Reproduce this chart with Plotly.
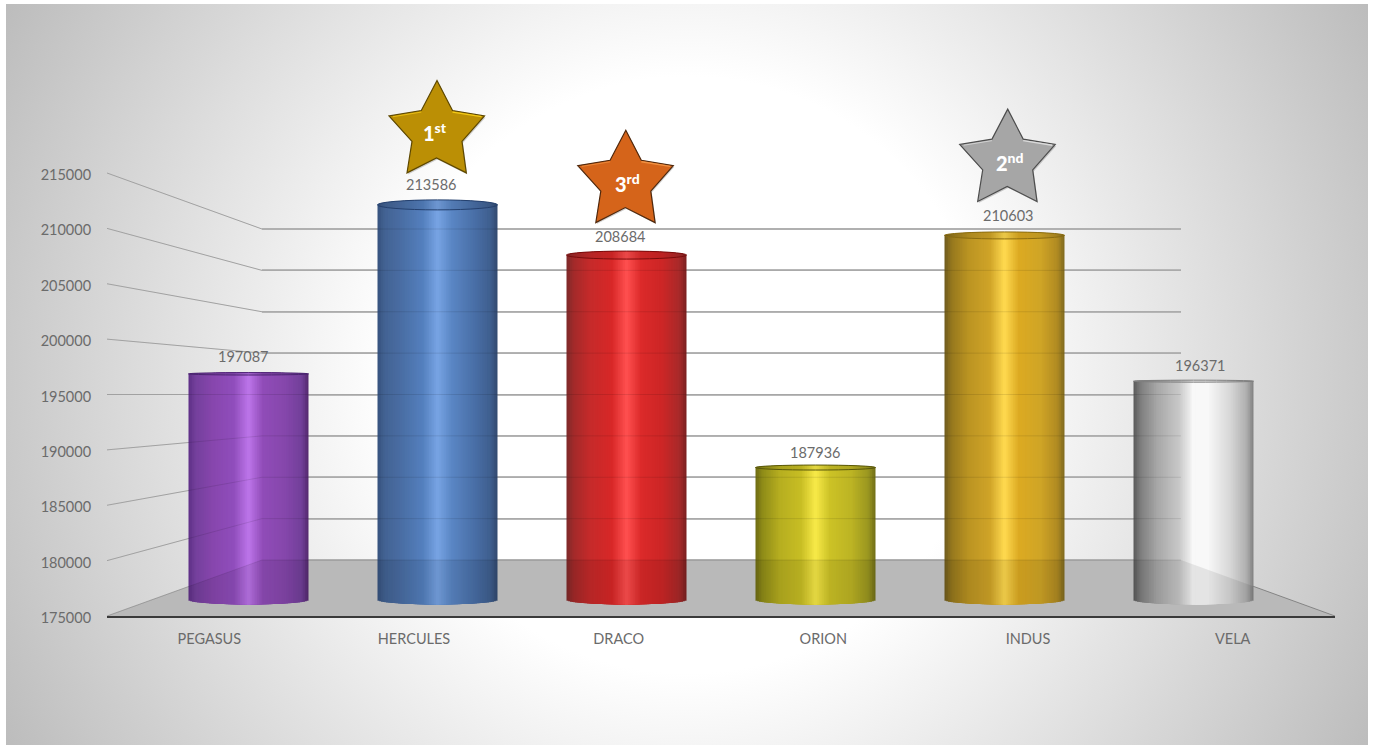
import base64
import math
import plotly.graph_objects as go

# ---------- data ----------
categories = ["PEGASUS", "HERCULES", "DRACO", "ORION", "INDUS", "VELA"]
values = [197087, 213586, 208684, 187936, 210603, 196371]
axis_ticks = [175000, 180000, 185000, 190000, 195000, 200000, 205000, 210000, 215000]
ranks = {"HERCULES": "1<sup>st</sup>", "INDUS": "2<sup>nd</sup>", "DRACO": "3<sup>rd</sup>"}

# ---------- style / layout ----------
W, H = 1373, 745
AX_MIN, AX_MAX = 175000, 215000
TEXT = "#6b6b6b"
FONT = "Lato"


def px(v):
    return v / W


def py(v):
    return 1 - v / H


FRONT_L, FRONT_R, FRONT_T, FRONT_B = 107, 1335, 173, 616
BACK_L, BACK_R, BACK_T, BACK_B = 262, 1181, 229, 560
BACK_PAD = 250              # axis units beyond the last gridlines, so that they are kept
BACK_SCALE = (BACK_B - BACK_T) / (AX_MAX - AX_MIN)
BAR_L, BAR_R = 154, 1288
BAR_SCALE = 0.01024         # pixels per unit on the bars' plane
BAR_BASE = 600
BAR_LOW = 174000
BAR_HIGH = 233000
BAR_T = BAR_BASE - (BAR_HIGH - AX_MIN) * BAR_SCALE
BAR_B = BAR_BASE + (AX_MIN - BAR_LOW) * BAR_SCALE

CYL_W = 120 / 189
N_STRIPS = 70
cap_half = [1.2, 5, 4, 2.5, 3.5, 1]
base_half = 4.5
stop_pos = [0.0, 0.06, 0.2, 0.38, 0.5, 0.62, 0.8, 0.94, 1.0]
stops = [
    ["#5e2f86", "#74409c", "#8746ad", "#904ebc", "#bd75ea", "#904cb8", "#8647ac", "#72409a", "#54296e"],
    ["#36527d", "#436393", "#4a6ea4", "#5480be", "#78a4e4", "#5a86c4", "#4a70a8", "#3f5f8f", "#32496f"],
    ["#7c2a2a", "#a32a2a", "#c62a2a", "#d82828", "#ff5050", "#dc2a2a", "#cc2626", "#a82a2a", "#7a2020"],
    ["#6e6c14", "#8f8c18", "#b6ae20", "#c8be24", "#f8ea48", "#ccc226", "#bcb424", "#9a9620", "#706e18"],
    ["#6e5a1e", "#96781e", "#bb9422", "#d0a428", "#ffda50", "#dcaa22", "#d0a526", "#b08a22", "#7f6a20"],
    ["#5a5a5a", "#7e7e7e", "#a8a8a8", "#c8c8c8", "#f8f8f8", "#f8f8f8", "#d8d8d8", "#b0b0b0", "#808080"],
]
cap_line = ["#4a2470", "#24406e", "#7a0c0c", "#5a580a", "#8a6c10", "#808080"]
label_dx = [-5.5, -6.5, -6.5, -1, 3.5, 6]
label_dy = [17, 20, 19, 15, 20, 16]
star_style = {
    "HERCULES": ("#bb8f05", "#5e4800", "#f2c814"),
    "INDUS": ("#a6a6a6", "#4d4d4d", "#dadada"),
    "DRACO": ("#d5641a", "#50280c", "#f09040"),
}
star_shift = {"HERCULES": (-0.5, 0), "INDUS": (3.2, 2), "DRACO": (-0.7, 0.5)}
rank_shift = {"HERCULES": (-2.5, 72.5), "INDUS": (5, 73), "DRACO": (0.5, 72)}
star_pts = [(0, 124.3), (15.5, 94.3), (47.5, 89), (25, 63.5), (29.3, 32), (-0.5, 47),
            (-30, 32), (-25, 63.5), (-48, 89), (-15.7, 94.3)]


def rgb(h):
    return tuple(int(h[i:i + 2], 16) for i in (1, 3, 5))


def strip_colour(stop_list, t):
    for k in range(len(stop_pos) - 1):
        if stop_pos[k] <= t <= stop_pos[k + 1]:
            f = (t - stop_pos[k]) / (stop_pos[k + 1] - stop_pos[k])
            a, b = rgb(stop_list[k]), rgb(stop_list[k + 1])
            return "rgb(%d,%d,%d)" % tuple(round(a[i] + (b[i] - a[i]) * f) for i in range(3))
    return stop_list[-1]


# background as a radial gradient
svg = f"""<svg xmlns="http://www.w3.org/2000/svg" width="{W}" height="{H}" viewBox="0 0 {W} {H}" preserveAspectRatio="none">
<defs><radialGradient id="g" gradientUnits="userSpaceOnUse" cx="688" cy="375" r="785">
<stop offset="0.38" stop-color="#ffffff"/><stop offset="1" stop-color="#bbbbbb"/>
</radialGradient></defs>
<rect x="6" y="4" width="1362" height="741" fill="url(#g)"/></svg>"""
bg_src = "data:image/svg+xml;base64," + base64.b64encode(svg.encode()).decode()

fig = go.Figure()

# back wall carries the grid
fig.add_trace(go.Scatter(x=[0.5] * len(axis_ticks), y=axis_ticks, mode="none", xaxis="x", yaxis="y",
                         showlegend=False, hoverinfo="skip"))
# front plane axes carry the labels
fig.add_trace(go.Scatter(x=categories, y=values, mode="none", xaxis="x2", yaxis="y2",
                         showlegend=False, hoverinfo="skip"))

# cylinders: opaque bars painted from each rim towards the centre, each new one over the last
dt = 1 / N_STRIPS
for k in range(N_STRIPS // 2):
    t0 = k * dt
    tm = t0 + dt / 2
    arc = math.sqrt(max(0, 1 - (2 * tm - 1) ** 2))
    tops = [v + cap_half[i] * arc / BAR_SCALE for i, v in enumerate(values)]
    bases = [AX_MIN - base_half * arc / BAR_SCALE for _ in values]
    span = (0.5 - t0 + dt) * CYL_W
    heights = [a - b for a, b in zip(tops, bases)]
    for off, t in ((-CYL_W / 2 + t0 * CYL_W, tm), (-dt * CYL_W, 1 - tm)):
        fig.add_trace(go.Bar(
            x=categories, y=heights, base=bases, offset=off, width=span,
            marker=dict(color=[strip_colour(st, t) for st in stops], line=dict(width=0)),
            xaxis="x3", yaxis="y3", showlegend=False, hoverinfo="skip",
        ))

shapes = []
floor = f"M {px(FRONT_L)} {py(FRONT_B)} L {px(BACK_L)} {py(BACK_B)} L {px(BACK_R)} {py(BACK_B)} L {px(FRONT_R)} {py(FRONT_B)} Z"
shapes.append(dict(type="path", path=floor, xref="paper", yref="paper", layer="below",
                   fillcolor="#c9c9c9", line=dict(width=0)))
# faint repeat of floor and lines over the cylinders: they show through the glassy bars
shapes.append(dict(type="path", path=floor, xref="paper", yref="paper", layer="above",
                   fillcolor="rgba(0,0,0,0.08)", line=dict(width=0)))
for tick in axis_ticks:
    f = (tick - AX_MIN) / (AX_MAX - AX_MIN)
    back_y = py(BACK_B - f * (BACK_B - BACK_T))
    for layer, col in (("below", "#b4b4b4"), ("above", "rgba(0,0,0,0.10)")):
        shapes.append(dict(type="line", xref="paper", yref="paper", layer=layer,
                           x0=px(FRONT_L), x1=px(BACK_L),
                           y0=py(FRONT_B - f * (FRONT_B - FRONT_T)), y1=back_y,
                           line=dict(color=col, width=1)))
    shapes.append(dict(type="line", xref="paper", yref="paper", layer="above",
                       x0=px(BACK_L), x1=px(BACK_R), y0=back_y, y1=back_y,
                       line=dict(color="rgba(0,0,0,0.10)", width=1)))
shapes.append(dict(type="line", xref="paper", yref="paper", layer="below",
                   x0=px(BACK_R), x1=px(FRONT_R), y0=py(BACK_B), y1=py(FRONT_B),
                   line=dict(color="#8c8c8c", width=1)))

annotations = []
for i, (c, v) in enumerate(zip(categories, values)):
    d = cap_half[i] / BAR_SCALE
    shapes.append(dict(type="circle", xref="x3", yref="y3", layer="above",
                       x0=i - CYL_W / 2, x1=i + CYL_W / 2, y0=v - d, y1=v + d,
                       fillcolor="rgba(0,0,0,0.08)",
                       line=dict(color=cap_line[i], width=1)))
    annotations.append(dict(x=c, y=v, xref="x3", yref="y3", text=str(v), showarrow=False,
                            xshift=label_dx[i], yshift=label_dy[i], yanchor="middle",
                            font=dict(family=FONT, size=14.5, color=TEXT)))
    if c in ranks:
        fill, edge, glint = star_style[c]
        sx, sy = star_shift[c]
        pts = [(a + sx, b + sy) for a, b in star_pts]
        p = "M " + " L ".join(f"{a} {b}" for a, b in pts) + " Z"
        shadow = "M " + " L ".join(f"{a + 1} {b - 1.5}" for a, b in pts) + " Z"
        base = dict(type="path", xref="x3", yref="y3", xsizemode="pixel", ysizemode="pixel",
                    xanchor=i, yanchor=v, layer="above")
        shapes.append(dict(base, path=shadow, fillcolor="rgba(0,0,0,0.18)", line=dict(width=0)))
        shapes.append(dict(base, path=p, fillcolor=fill, line=dict(color=edge, width=1.2)))
        shapes.append(dict(base, path=f"M {15.5 + sx} {92.8 + sy} L {44.5 + sx} {88.2 + sy}",
                           line=dict(color=glint, width=1.4)))
        shapes.append(dict(base, path=f"M {-15.7 + sx} {92.8 + sy} L {-44 + sx} {88.2 + sy}",
                           line=dict(color=glint, width=0.8)))
        annotations.append(dict(x=c, y=v, xref="x3", yref="y3", text=ranks[c], showarrow=False,
                                xshift=rank_shift[c][0], yshift=rank_shift[c][1], yanchor="middle",
                                font=dict(family=FONT, size=20, color="#ffffff", weight=900)))

pad_px = BACK_PAD * BACK_SCALE
fig.update_layout(
    width=W, height=H,
    margin=dict(l=0, r=0, t=0, b=0, pad=0),
    paper_bgcolor="#ffffff",
    plot_bgcolor="rgba(0,0,0,0)",
    barmode="overlay",
    showlegend=False,
    images=[dict(source=bg_src, xref="paper", yref="paper", x=0, y=1, sizex=1, sizey=1,
                 sizing="stretch", xanchor="left", yanchor="top", layer="below")],
    shapes=shapes,
    annotations=annotations,
    # back wall (grid only)
    xaxis=dict(domain=[px(BACK_L), px(BACK_R)], range=[0, 1], showgrid=False, zeroline=False,
               tickmode="array", tickvals=[],
               automargin=False, showticklabels=False, ticks="", showline=False, anchor="y", fixedrange=True),
    yaxis=dict(domain=[py(BACK_B + pad_px), py(BACK_T - pad_px)],
               range=[AX_MIN - BACK_PAD, AX_MAX + BACK_PAD], tickvals=axis_ticks,
               automargin=False, showgrid=True, gridcolor="#bababa", gridwidth=1.5, zeroline=False,
               showticklabels=False, ticks="", showline=False, anchor="x", fixedrange=True),
    # front plane (labels and axis line)
    xaxis2=dict(domain=[px(FRONT_L), px(FRONT_R)], type="category", categoryorder="array",
                categoryarray=categories, range=[-0.5, 5.5], anchor="y2", automargin=False,
                showgrid=False, zeroline=False, showline=True, linecolor="#3a3a3a", linewidth=1.5,
                ticks="outside", ticklen=9, tickcolor="rgba(0,0,0,0)",
                tickfont=dict(family=FONT, size=14.5, color=TEXT), fixedrange=True),
    yaxis2=dict(domain=[py(FRONT_B), py(FRONT_T)], range=[AX_MIN, AX_MAX], tickvals=axis_ticks,
                ticktext=[str(t) for t in axis_ticks], anchor="x2", automargin=False,
                showgrid=False, zeroline=False, showline=False,
                ticks="outside", ticklen=12, tickcolor="rgba(0,0,0,0)", ticklabelshift=2,
                tickfont=dict(family=FONT, size=14.5, color=TEXT), fixedrange=True),
    # plane holding the cylinders
    xaxis3=dict(domain=[px(BAR_L), px(BAR_R)], type="category", categoryorder="array",
                categoryarray=categories, range=[-0.5, 5.5], visible=False, showticklabels=False,
                anchor="y3", automargin=False, fixedrange=True),
    yaxis3=dict(domain=[py(BAR_B), py(BAR_T)], range=[BAR_LOW, BAR_HIGH], visible=False,
                showticklabels=False, anchor="x3", automargin=False, fixedrange=True),
)

fig.write_html("out.html", config=dict(displayModeBar=False),
               post_script="document.body.style.margin='0';document.documentElement.style.overflow='hidden';")
